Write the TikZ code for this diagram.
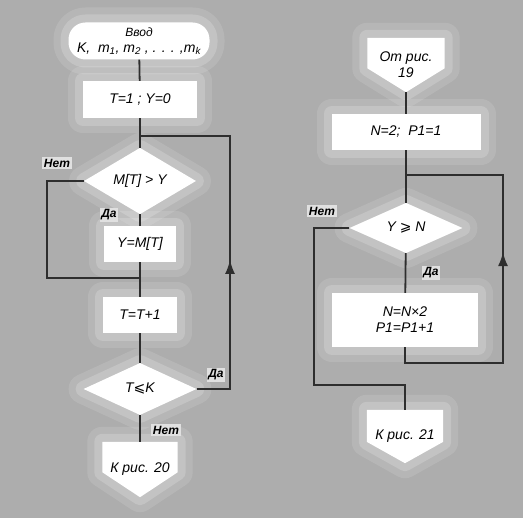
\documentclass[tikz,border=0pt]{standalone}
\usepackage{fontspec}
\setmainfont{Liberation Sans}
\newfontfamily\mathsym{DejaVu Sans}
\usetikzlibrary{shapes.geometric,arrows.meta,calc,backgrounds}
\definecolor{paper}{gray}{0.68}
\definecolor{ink}{gray}{0.18}
\tikzset{
  flowline/.style={draw=ink, line width=1.8pt},
  uparrow/.style={draw=ink, line width=1.8pt, -{Latex[length=14pt,width=10pt]}},
  glow/.style={preaction={draw=white, opacity=0.12, line width=30pt, line join=round},
               preaction={draw=white, opacity=0.18, line width=16pt, line join=round}},
  procbox/.style={fill=white, glow, inner sep=2pt, align=center},
  testbox/.style={diamond, fill=white, glow, inner sep=0pt, align=center},
  startbox/.style={fill=white, glow, rounded corners=17pt, inner sep=2pt, align=center},
  pagebox/.style={inner sep=2pt, align=center},
  branch/.style={fill=white!88!black, inner sep=1.5pt, font=\fontsize{12}{14}\selectfont\bfseries\itshape}
}
\newcommand{\pageshape}[2]{%
  \begin{scope}[on background layer]
    \fill[white, glow] (#1.north west) -- (#1.north east) -- ($(#1.north east)!#2!(#1.south east)$)
      -- (#1.south) -- ($(#1.north west)!#2!(#1.south west)$) -- cycle;
  \end{scope}}

\begin{document}
\begin{tikzpicture}[x=1pt, y=-1pt, every node/.style={font=\fontsize{14}{16}\selectfont\itshape}]
  \begin{scope}[on background layer]
    \fill[paper] (0,0) rectangle (523,518);
  \end{scope}
  \useasboundingbox (0,0) rectangle (523,518);

  \node[startbox, minimum width=141pt, minimum height=37pt] (in) at (139,41)
    {{\fontsize{12}{13}\selectfont Ввод}\\K,\ \ m\textsubscript{1}, m\textsubscript{2} , . . . ,m\textsubscript{k}};
  \node[procbox, minimum width=114pt, minimum height=37pt] (init) at (140,99.5) {T=1 ; Y=0};
  \node[testbox, minimum width=112pt, minimum height=52pt] (cmp) at (140,181) {M[T] > Y};
  \node[procbox, minimum width=72pt, minimum height=36pt] (set) at (140,244) {Y=M[T]};
  \node[procbox, minimum width=74pt, minimum height=36pt] (inc) at (140,315) {T=T+1};
  \node[testbox, minimum width=113pt, minimum height=52pt] (test) at (140,389) {T{\mathsym⩽}K};
  \node[pagebox, minimum width=75pt, minimum height=55pt] (out1) at (140,469.5) {К рис. 20};
  \pageshape{out1}{0.55}

  \node[pagebox, minimum width=77pt, minimum height=54pt] (from) at (406,65) {От рис.\\19};
  \pageshape{from}{0.56}
  \node[procbox, minimum width=149pt, minimum height=36pt] (init2) at (406,132) {N=2;\ \ P1=1};
  \node[testbox, minimum width=113pt, minimum height=48pt] (cmp2) at (406,228) {Y {\mathsym⩾} N};
  \node[procbox, minimum width=146pt, minimum height=54pt] (upd) at (405,320) {N=N×2\\P1=P1+1};
  \node[pagebox, minimum width=76pt, minimum height=53pt] (out2) at (405,436.5) {К рис. 21};
  \pageshape{out2}{0.6}

  \coordinate (j1) at (140,136);
  \coordinate (r1) at (230,136);
  \coordinate (r2) at (230,389);
  \coordinate (l1) at (47,278);
  \coordinate (j2) at (140,278);
  \coordinate (j3) at (405,175);
  \coordinate (r3) at (503,175);
  \coordinate (j4) at (405,363);
  \coordinate (r4) at (503,363);
  \coordinate (l2) at (314,385);
  \coordinate (j5) at (405,385);

  \draw[flowline] (in) -- (init);
  \draw[flowline] (init) -- (cmp);
  \draw[flowline] (cmp) -- (set);
  \draw[flowline] (set) -- (inc);
  \draw[flowline] (inc) -- (test);
  \draw[flowline] (test) -- (out1);
  \draw[flowline] (cmp.west) -| (l1) -- (j2);
  \draw[flowline] (test.east) -- (r2) -- (r1) -- (j1);
  \draw[uparrow] (r2) -- ($(r2)!0.51!(r1)$);

  \draw[flowline] (from.south) -- (init2);
  \draw[flowline] (init2) -- (cmp2);
  \draw[flowline] (cmp2) -- (upd);
  \draw[flowline] (upd.south) -- (j4) -- (r4) -- (r3) -- (j3);
  \draw[uparrow] (r4) -- ($(r4)!0.59!(r3)$);
  \draw[flowline] (cmp2.west) -| (l2) -- (j5) -- (out2.north);

  \node[branch] (no1) at (57,163) {Нет};
  \node[branch] (yes1) at (109,215) {Да};
  \node[branch] (yes2) at (216,375) {Да};
  \node[branch] (no2) at (166,430) {Нет};
  \node[branch] (no3) at (322,211) {Нет};
  \node[branch] (yes3) at (431,273) {Да};
\end{tikzpicture}
\end{document}
